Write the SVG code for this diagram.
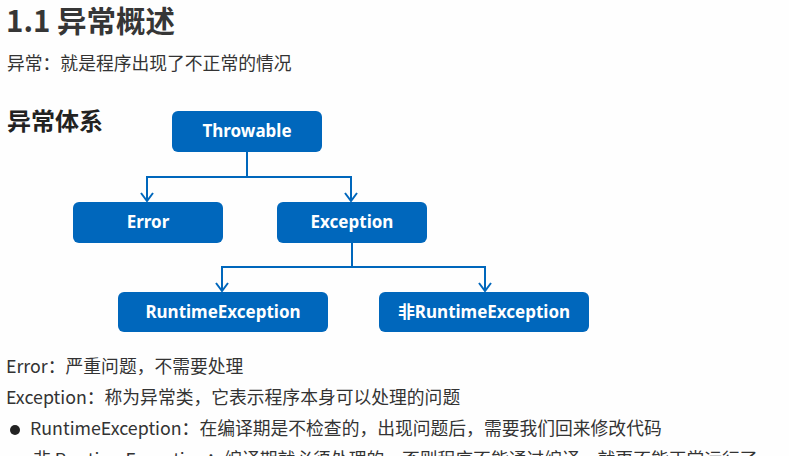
<svg xmlns="http://www.w3.org/2000/svg" width="789" height="456" viewBox="0 0 789 456">
  <style>
    .h1 { font-family: "Noto Sans CJK SC", "Noto Sans", sans-serif; font-weight: 700; font-size: 29.5px; fill: #363636; }
    .h2 { font-family: "Noto Sans CJK SC", "Noto Sans", sans-serif; font-weight: 700; font-size: 24px; fill: #222222; }
    .body { font-family: "Noto Sans CJK SC", "Noto Sans", sans-serif; font-size: 17.8px; fill: #333333; }
    .node rect { fill: #0067bc; }
    .node text { font-family: "Noto Sans", "Open Sans", "Noto Sans CJK SC", sans-serif; font-weight: 700; font-size: 17px; fill: #ffffff; text-anchor: middle; }
    .edge { fill: none; stroke: #0067bc; stroke-width: 2; }
  </style>
  <defs>
    <marker id="arrow" viewBox="0 0 14 10" refX="7" refY="9" markerWidth="14" markerHeight="10" markerUnits="userSpaceOnUse" orient="0">
      <path d="M1 1 L7 9 L13 1" fill="none" stroke="#0067bc" stroke-width="2"/>
    </marker>
  </defs>
  <rect width="789" height="456" fill="#fefefe"/>

  <!-- headings and intro -->
  <text class="h1" x="6" y="32">1.1 异常概述</text>
  <text class="body" x="7" y="70">异常：就是程序出现了不正常的情况</text>
  <text class="h2" x="7" y="130">异常体系</text>

  <!-- connectors -->
  <g id="connectors">
    <path class="edge" d="M247 152 V177 M147 177 H351"/>
    <path class="edge" d="M147 176 V201" marker-end="url(#arrow)"/>
    <path class="edge" d="M351 176 V201" marker-end="url(#arrow)"/>
    <path class="edge" d="M352 243 V267 M222 267 H485"/>
    <path class="edge" d="M222 266 V291" marker-end="url(#arrow)"/>
    <path class="edge" d="M485 266 V291" marker-end="url(#arrow)"/>
  </g>

  <!-- class nodes -->
  <g id="throwable" class="node">
    <rect x="172" y="111" width="150" height="41" rx="6"/>
    <text x="247" y="137">Throwable</text>
  </g>
  <g id="error" class="node">
    <rect x="73" y="202" width="150" height="41" rx="6"/>
    <text x="148" y="228">Error</text>
  </g>
  <g id="exception" class="node">
    <rect x="277" y="202" width="150" height="41" rx="6"/>
    <text x="352" y="228">Exception</text>
  </g>
  <g id="runtime-exception" class="node">
    <rect x="118" y="292" width="210" height="40" rx="6"/>
    <text x="223" y="318">RuntimeException</text>
  </g>
  <g id="non-runtime-exception" class="node">
    <rect x="379" y="292" width="210" height="40" rx="6"/>
    <text x="484" y="318">非RuntimeException</text>
  </g>

  <!-- notes -->
  <text class="body" x="6" y="373">Error：严重问题，不需要处理</text>
  <text class="body" x="6" y="404">Exception：称为异常类，它表示程序本身可以处理的问题</text>
  <circle cx="15" cy="430" r="5" fill="#222222"/>
  <text class="body" x="30" y="435">RuntimeException：在编译期是不检查的，出现问题后，需要我们回来修改代码</text>
  <circle cx="15" cy="462" r="5" fill="#222222"/>
  <text class="body" x="33" y="466">非 RuntimeException：编译期就必须处理的，否则程序不能通过编译，就更不能正常运行了</text>
</svg>
